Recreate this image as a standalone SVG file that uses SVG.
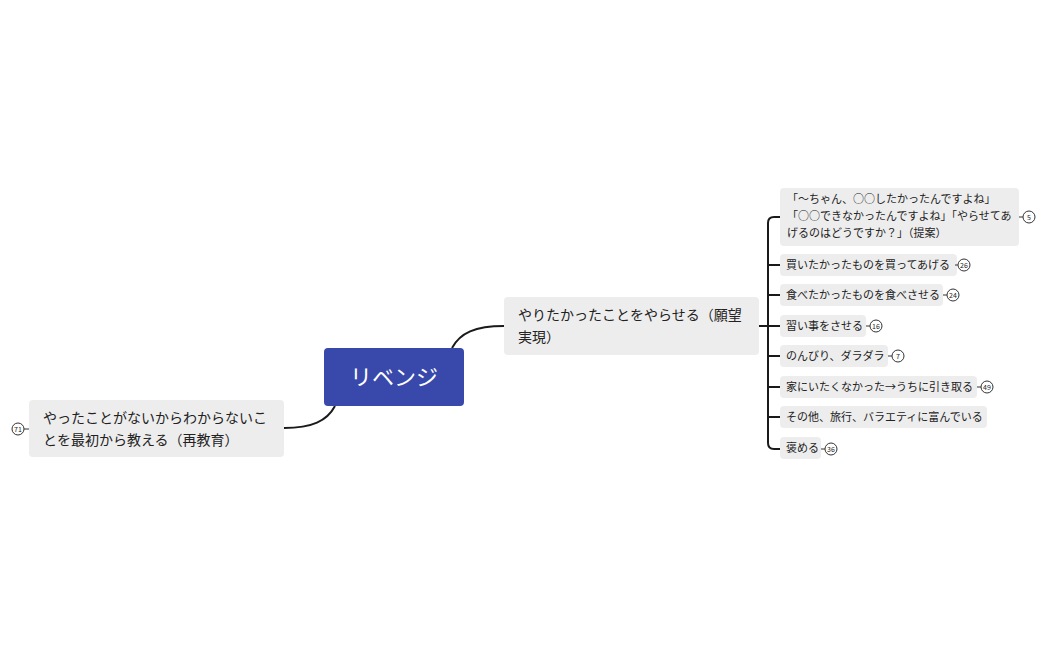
<svg xmlns="http://www.w3.org/2000/svg" width="1048" height="650" viewBox="0 0 1048 650">
<style>
text{font-family:"Noto Sans CJK JP","Noto Sans",sans-serif;fill:#222}
.box{fill:#ededed}
.t{font-size:11px}
.m{font-size:14px}
.b circle{fill:#fff;stroke:#333;stroke-width:1}
.b text{font-size:7px;text-anchor:middle}
.b line{stroke:#333;stroke-width:1}
.c{fill:none;stroke:#1a1a1a;stroke-width:2}
</style>
<rect width="1048" height="650" fill="#fff"/>
<g id="connectors">
<path class="c" d="M452,348 C460,333 475,326 504,326"/>
<path class="c" d="M335,406 C327,421 312,428 284,428"/>
<path class="c" d="M759,326 H768"/>
<path class="c" d="M780,217 H774 Q768,217 768,223 V443 Q768,449 774,449 H780"/>
<path class="c" d="M768,265 H780 M768,295 H780 M768,326 H780 M768,356 H780 M768,387 H780 M768,417 H780"/>
</g>
<g id="root"><rect x="324" y="348" width="140" height="58" rx="4" fill="#3949ab"/><text x="394" y="385" text-anchor="middle" font-size="22" style="fill:#fff">リベンジ</text></g>
<g id="n-right"><rect class="box" x="504" y="297" width="255" height="58" rx="4"/><text class="m" x="518" y="320">やりたかったことをやらせる（願望</text><text class="m" x="518" y="342">実現）</text></g>
<g id="n-left"><rect class="box" x="29" y="400" width="255" height="57" rx="4"/><text class="m" x="43" y="423">やったことがないからわからないこ</text><text class="m" x="43" y="445">とを最初から教える（再教育）</text>
<g class="b"><line x1="24" y1="429" x2="29" y2="429"/><circle cx="18" cy="429" r="6"/><text x="18" y="431.5">71</text></g></g>
<g id="c1"><rect class="box" x="780" y="188" width="239" height="58" rx="4"/><text class="t" x="787" y="203">「～ちゃん、○○したかったんですよね」</text><text class="t" x="787" y="220">「○○できなかったんですよね」「やらせてあ</text><text class="t" x="787" y="237">げるのはどうですか？」（提案）</text>
<g class="b"><line x1="1019" y1="217" x2="1023" y2="217"/><circle cx="1029" cy="217" r="6"/><text x="1029" y="219.5">5</text></g></g>
<g id="c2"><rect class="box" x="780" y="254" width="177" height="22" rx="4"/><text class="t" x="786" y="269">買いたかったものを買ってあげる</text><g class="b"><line x1="955" y1="265" x2="958" y2="265"/><circle cx="964" cy="265" r="6"/><text x="964" y="267.5">26</text></g></g>
<g id="c3"><rect class="box" x="780" y="284" width="163" height="22" rx="4"/><text class="t" x="786" y="299">食べたかったものを食べさせる</text><g class="b"><line x1="943" y1="295" x2="947" y2="295"/><circle cx="953" cy="295" r="6"/><text x="953" y="297.5">24</text></g></g>
<g id="c4"><rect class="box" x="780" y="315" width="86" height="22" rx="4"/><text class="t" x="786" y="330">習い事をさせる</text><g class="b"><line x1="866" y1="326" x2="870" y2="326"/><circle cx="876" cy="326" r="6"/><text x="876" y="328.5">16</text></g></g>
<g id="c5"><rect class="box" x="780" y="345" width="108" height="22" rx="4"/><text class="t" x="786" y="360">のんびり、ダラダラ</text><g class="b"><line x1="888" y1="356" x2="892" y2="356"/><circle cx="898" cy="356" r="6"/><text x="898" y="358.5">7</text></g></g>
<g id="c6"><rect class="box" x="780" y="376" width="197" height="22" rx="4"/><text class="t" x="786" y="391">家にいたくなかった→うちに引き取る</text><g class="b"><line x1="977" y1="387" x2="981" y2="387"/><circle cx="987" cy="387" r="6"/><text x="987" y="389.5">49</text></g></g>
<g id="c7"><rect class="box" x="780" y="406" width="207" height="22" rx="4"/><text class="t" x="786" y="421">その他、旅行、バラエティに富んでいる</text></g>
<g id="c8"><rect class="box" x="780" y="437" width="41" height="22" rx="4"/><text class="t" x="786" y="452">褒める</text><g class="b"><line x1="821" y1="449" x2="825" y2="449"/><circle cx="831" cy="449" r="6"/><text x="831" y="451.5">36</text></g></g>
</svg>
